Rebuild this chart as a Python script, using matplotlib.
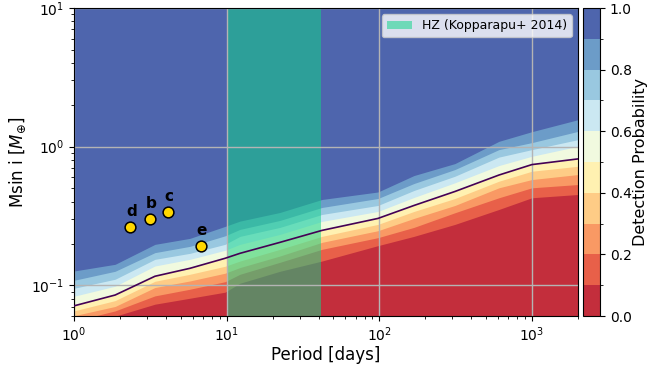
import numpy as np
import matplotlib
matplotlib.use("Agg")
import matplotlib.pyplot as plt
from matplotlib.colors import ListedColormap, BoundaryNorm
from matplotlib.cm import ScalarMappable

# Orbital periods [days] at which the detection limits are tabulated
period = [1.0, 1.86, 3.39, 5.75, 9.75, 12.22, 22.34, 42.1, 97.9, 168.5, 312.6, 607.0, 998.0, 2000.0]

# Msini [M_earth] at which the detection probability reaches each level
prob_levels = [0.1, 0.2, 0.3, 0.4, 0.5, 0.6, 0.7, 0.8, 0.9]
mass_p10 = [0.0499, 0.0598, 0.0730, 0.0806, 0.0891, 0.1034, 0.1261, 0.1495, 0.1930, 0.2252, 0.2747, 0.3521, 0.4276, 0.4516]
mass_p20 = [0.0551, 0.0653, 0.0838, 0.0936, 0.1060, 0.1200, 0.1464, 0.1816, 0.2204, 0.2614, 0.3334, 0.4276, 0.5045, 0.5328]
mass_p30 = [0.0603, 0.0703, 0.0963, 0.1074, 0.1221, 0.1341, 0.1625, 0.2039, 0.2474, 0.3034, 0.3762, 0.5045, 0.5788, 0.6289]
mass_p40 = [0.0653, 0.0775, 0.1068, 0.1200, 0.1370, 0.1495, 0.1816, 0.2252, 0.2747, 0.3406, 0.4224, 0.5629, 0.6644, 0.7216]
mass_p50 = [0.0710, 0.0850, 0.1161, 0.1325, 0.1564, 0.1699, 0.2039, 0.2487, 0.3034, 0.3762, 0.4746, 0.6237, 0.7420, 0.8155]
mass_p60 = [0.0833, 0.0984, 0.1377, 0.1538, 0.1786, 0.1972, 0.2327, 0.2887, 0.3406, 0.4297, 0.5482, 0.7302, 0.8517, 1.005]
mass_p70 = [0.0951, 0.1105, 0.1538, 0.1699, 0.1972, 0.2252, 0.2614, 0.3241, 0.3762, 0.4826, 0.6114, 0.8403, 0.9515, 1.123]
mass_p80 = [0.1086, 0.1261, 0.1719, 0.1908, 0.2271, 0.2529, 0.2935, 0.3640, 0.4224, 0.5418, 0.6833, 0.9515, 1.069, 1.288]
mass_p90 = [0.1267, 0.1416, 0.1972, 0.2179, 0.2657, 0.2902, 0.3350, 0.4157, 0.4707, 0.6185, 0.7546, 1.092, 1.282, 1.564]
limits = [mass_p10, mass_p20, mass_p30, mass_p40, mass_p50, mass_p60, mass_p70, mass_p80, mass_p90]

# Known planets
planet_names = ["d", "b", "c", "e"]
planet_period = [2.3402, 3.1542, 4.1244, 6.7392]
planet_msini = [0.263, 0.299, 0.335, 0.193]

# Habitable zone, in days
hz_inner = 10.0
hz_outer = 41.5

# band colours: RdYlBu at alpha 0.9, flattened onto white
cmap = plt.get_cmap("RdYlBu")
bounds = np.linspace(0, 1, 11)
band_colors = []
for k in range(10):
    r, g, b, _ = cmap((k + 0.5) / 10)
    band_colors.append((0.9 * r + 0.1, 0.9 * g + 0.1, 0.9 * b + 0.1))

fig = plt.figure(figsize=(6.65, 3.65), dpi=100)
ax = fig.add_axes([74 / 665, 49 / 365, 504 / 665, 308 / 365])
cax = fig.add_axes([583 / 665, 49 / 365, 17 / 665, 308 / 365])

ax.set_xscale("log")
ax.set_yscale("log")

# top band first, then each lower band on top of it
ax.fill_between(period, 0.01, 100, color=band_colors[9], lw=0)
for j in range(8, -1, -1):
    ax.fill_between(period, 0.01, limits[j], color=band_colors[j], lw=0)

ax.plot(period, mass_p50, color="#440154", lw=1.2, zorder=3)

ax.axvspan(hz_inner, hz_outer, color="#10d489", alpha=0.53, lw=0,
           label="HZ (Kopparapu+ 2014)", zorder=1.2)

ax.scatter(planet_period, planet_msini, s=60, color="gold", edgecolor="black",
           lw=1.1, zorder=5)
for name, p, m in zip(planet_names, planet_period, planet_msini):
    ax.annotate(name, (p, m), xytext=(1, 8), textcoords="offset points",
                ha="center", va="baseline", fontsize=11, fontweight="bold", zorder=6)

ax.set_xlim(1, 2000)
ax.set_ylim(0.06, 10)
ax.grid(True, which="major", color="#b4b4b4", lw=1)
ax.set_xlabel("Period [days]", fontsize=12, labelpad=1)
ax.set_ylabel(r"Msin i [$M_{\oplus}$]", fontsize=12, labelpad=2)
ax.tick_params(labelsize=10)

ax.legend(loc="upper right", fontsize=9, framealpha=0.8)

sm = ScalarMappable(norm=BoundaryNorm(bounds, 10), cmap=ListedColormap(band_colors))
cb = fig.colorbar(sm, cax=cax, ticks=[0, 0.2, 0.4, 0.6, 0.8, 1.0])
cb.set_label("Detection Probability", fontsize=11.5, labelpad=1)
cb.ax.tick_params(labelsize=10)

fig.savefig("out.png", dpi=100)
